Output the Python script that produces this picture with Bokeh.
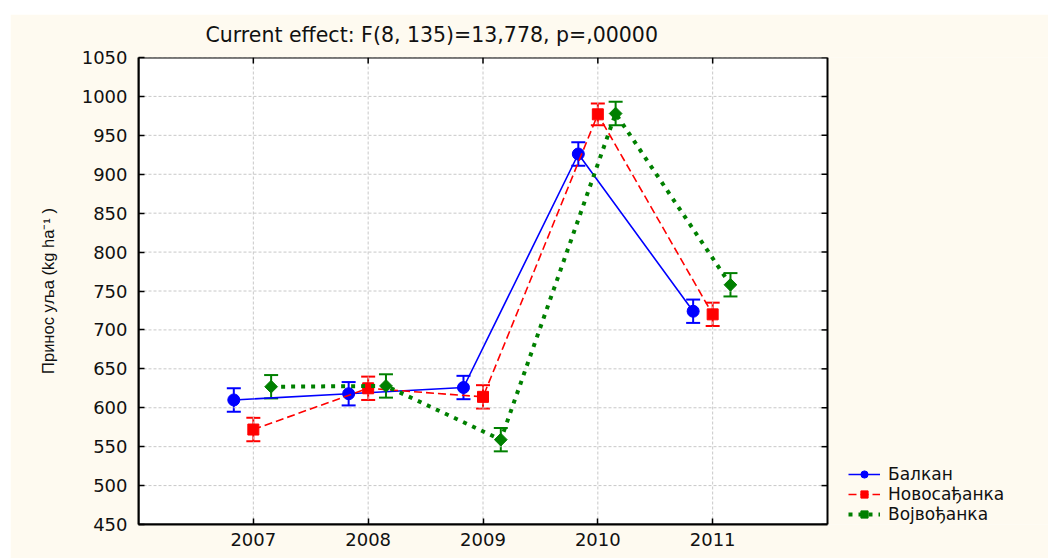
import math
from bokeh.plotting import figure
from bokeh.models import (ColumnDataSource, FixedTicker, Legend, LegendItem,
                          Whisker, TeeHead, Range1d, BoxAnnotation)
from bokeh.transform import dodge
from bokeh.embed import file_html
from bokeh.resources import INLINE

# ---------------- data ----------------
years = [2007, 2008, 2009, 2010, 2011]
series_names = ["Балкан", "Новосађанка", "Војвођанка"]
balkan = [610, 618, 626, 926, 724]
balkan_err = [15, 15, 15, 15, 15]
novosadjanka = [572, 625, 614, 977, 720]
novosadjanka_err = [15, 15, 15, 14, 15]
vojvodjanka = [627, 628, 559, 978, 758]
vojvodjanka_err = [15, 15, 15, 15, 15]
y_ticks = [450, 500, 550, 600, 650, 700, 750, 800, 850, 900, 950, 1000, 1050]
x_lo, x_hi = 2006, 2012
y_lo, y_hi = 450, 1050
title_text = "Current effect: F(8, 135)=13,778, p=,00000"
y_label = "Принос уља (kg ha⁻¹ )"

# ---------------- layout / styles ----------------
CREAM = "#fefaf0"
FONT = "DejaVu Sans"
FIG_W, FIG_H = 1038, 544
LEFT, TOP, BOTTOM = 128, 43, 34
BOX_W = 689            # pixel width of the white plotting box
FRAME_W = FIG_W - LEFT  # the frame also holds the legend area to the right of the box
x_end = x_lo + (x_hi - x_lo) * FRAME_W / BOX_W

styles = [
    dict(color="#0000ff", dash="solid", lw=1.6, marker="circle", size=12, angle=0.0, offset=-0.17),
    dict(color="#ff0000", dash="8 4", lw=1.6, marker="square", size=11, angle=0.0, offset=0.0),
    dict(color="#008000", dash="4 6", lw=4, marker="square", size=9, angle=0.785398, offset=0.155),
]

p = figure(width=FIG_W, height=FIG_H, output_backend="svg", toolbar_location=None,
           x_range=Range1d(x_lo, x_end), y_range=Range1d(y_lo, y_hi),
           min_border_left=LEFT, min_border_right=0, min_border_top=TOP,
           min_border_bottom=BOTTOM,
           background_fill_color=CREAM, border_fill_color=CREAM)
p.margin = (14, 0, 0, 10)
p.outline_line_color = None
p.xgrid.visible = False
p.ygrid.visible = False

# white plotting box and its black frame
p.add_layout(BoxAnnotation(left=x_lo, right=x_hi, bottom=y_lo, top=y_hi,
                           fill_color="white", fill_alpha=1.0, line_color=None,
                           level="underlay"))
p.add_layout(BoxAnnotation(left=x_lo, right=x_hi, bottom=y_lo, top=y_hi,
                           fill_alpha=0.0, line_color="black", line_alpha=1.0, line_width=2,
                           level="overlay"))

# title
p.title.text = title_text
p.title.text_font = FONT
p.title.text_font_size = "20.5px"
p.title.text_font_style = "normal"
p.title.text_color = "#111111"
p.title.align = "left"
p.title.offset = 67
p.title.vertical_align = "top"
p.title.standoff = 17

# axes
for ax in (p.xaxis[0], p.yaxis[0]):
    ax.axis_line_color = "black"
    ax.axis_line_width = 2
    ax.major_tick_in = 6
    ax.major_tick_out = 0
    ax.major_tick_line_width = 1.5
    ax.minor_tick_line_color = None
    ax.major_label_text_font = FONT
    ax.major_label_text_font_size = "18px"
    ax.major_label_text_color = "#111111"
p.xaxis.ticker = FixedTicker(ticks=years)
p.xaxis.bounds = (x_lo, x_hi)
p.yaxis.ticker = FixedTicker(ticks=y_ticks)
p.xaxis.major_label_standoff = 8
p.yaxis.major_label_standoff = 11
p.yaxis.axis_label = y_label
p.yaxis.axis_label_text_font = "Liberation Sans"
p.yaxis.axis_label_text_font_size = "16.5px"
p.yaxis.axis_label_text_font_style = "normal"
p.yaxis.axis_label_text_color = "#111111"
p.yaxis.axis_label_standoff = 22

# grid lines (dashed light grey), limited to the plotting box
p.segment(x0=x_lo, x1=x_hi, y0=y_ticks, y1=y_ticks, line_color="#c8c8c8",
          line_width=1, line_dash="3 2")
p.segment(x0=years, x1=years, y0=y_lo, y1=y_hi, line_color="#c8c8c8",
          line_width=1, line_dash="3 2")

# inward ticks on the right and top edges of the box
p.ray(x=x_hi, y=y_ticks, length=6, length_units="screen", angle=math.pi,
      line_color="black", line_width=1.5)
p.ray(x=years, y=y_hi, length=6, length_units="screen", angle=-math.pi / 2,
      line_color="black", line_width=1.5)

# series
items = []
for name, vals, errs, st in zip(series_names,
                                [balkan, novosadjanka, vojvodjanka],
                                [balkan_err, novosadjanka_err, vojvodjanka_err],
                                styles):
    src = ColumnDataSource(dict(year=years, val=vals,
                                upper=[v + e for v, e in zip(vals, errs)],
                                lower=[v - e for v, e in zip(vals, errs)]))
    xs = dodge("year", st["offset"], range=p.x_range)
    ln = p.line(x=xs, y="val", source=src, line_color=st["color"], line_width=st["lw"],
                line_dash=st["dash"])
    w = Whisker(base=xs, upper="upper", lower="lower", source=src,
                line_color=st["color"], line_width=2,
                upper_head=TeeHead(size=14, line_color=st["color"], line_width=2),
                lower_head=TeeHead(size=14, line_color=st["color"], line_width=2))
    p.add_layout(w)
    sc = p.scatter(x=xs, y="val", source=src, marker=st["marker"], size=st["size"],
                   angle=st["angle"], fill_color=st["color"], line_color=st["color"])
    items.append(LegendItem(label=name, renderers=[ln, sc]))

legend = Legend(items=items, location=(710, 0), border_line_color=None,
                background_fill_alpha=0, label_text_font=FONT, label_text_font_size="17px",
                label_text_color="#111111", glyph_width=32, glyph_height=18, label_height=18,
                spacing=0, padding=0, margin=0, label_standoff=8)
p.add_layout(legend)

open("out.html", "w").write(file_html(p, INLINE))
